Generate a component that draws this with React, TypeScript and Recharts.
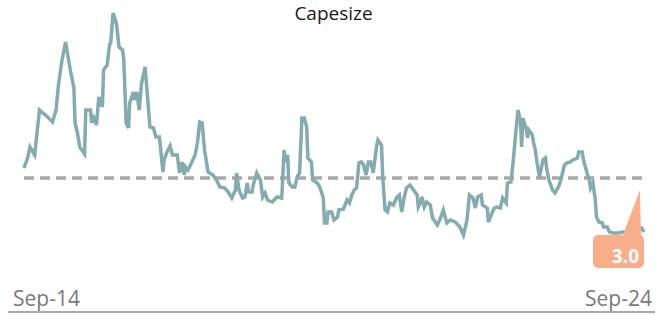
import React from 'react';
import {
  LineChart,
  Line,
  XAxis,
  YAxis,
  ReferenceLine,
  ReferenceDot,
} from 'recharts';

// weeks since Sep-14
const weeks = [
  0, 3, 5, 9, 13, 19, 24, 27, 29, 32, 35, 39, 42, 43, 45, 47, 51, 52, 56, 57,
  58, 61, 63, 66, 67, 70, 72, 73, 75, 77, 78, 80, 83, 84, 86, 88, 89, 92, 93, 95,
  97, 99, 102, 104, 106, 109, 111, 114, 117, 118, 120, 123, 125, 129, 131, 133, 135, 136, 138, 141,
  144, 146, 148, 150, 152, 155, 159, 162, 165, 169, 172, 175, 178, 179, 181, 184, 186, 188, 189, 192,
  193, 196, 199, 201, 203, 205, 209, 213, 217, 219, 220, 222, 223, 226, 228, 230, 232, 234, 236, 238,
  239, 242, 243, 247, 249, 252, 253, 255, 256, 259, 261, 264, 265, 269, 272, 274, 276, 278, 280, 282,
  284, 286, 288, 290, 292, 294, 297, 298, 301, 302, 304, 306, 308, 311, 314, 316, 318, 320, 322, 325,
  328, 331, 332, 334, 335, 337, 339, 342, 344, 348, 350, 353, 356, 359, 363, 367, 370, 373, 375, 378,
  380, 382, 385, 386, 390, 391, 394, 396, 398, 401, 403, 406, 407, 410, 412, 414, 416, 418, 419, 420,
  423, 424, 425, 428, 429, 430, 432, 434, 437, 439, 440, 442, 445, 447, 450, 452, 455, 457, 460, 462,
  466, 467, 470, 471, 474, 476, 477, 479, 481, 482, 484, 487, 488, 491, 493, 496, 499, 501, 504, 509,
  513, 517, 520, 522,
];

const capesize = [
  6.2, 6.7, 7.25, 6.85, 9.1, 8.8, 8.5, 9.1, 10.35, 11.6, 12.5, 11.1, 10.2, 8.45, 7.95, 7.25, 6.9, 9.1, 9.1, 8.45,
  8.85, 8.35, 9.75, 9.25, 11.1, 11.35, 12.35, 12.45, 13.95, 13.6, 13.35, 12.25, 12.1, 11.6, 8.45, 8.2, 9.45, 10.0, 9.6, 10.0,
  9.1, 10.45, 11.25, 9.75, 8.25, 8.2, 7.75, 7.75, 6.0, 6.6, 6.95, 7.3, 6.85, 6.85, 5.95, 6.5, 5.85, 6.25, 6.1, 6.45,
  6.85, 7.45, 8.5, 8.45, 7.1, 6.0, 5.85, 5.6, 5.25, 5.2, 5.0, 4.7, 5.1, 5.95, 5.1, 4.7, 4.75, 5.45, 5.0, 5.0,
  5.35, 5.95, 5.6, 4.75, 4.95, 4.6, 4.5, 4.75, 4.7, 7.1, 6.5, 6.85, 5.45, 5.25, 5.25, 5.75, 5.95, 8.7, 8.7, 8.25,
  6.7, 6.5, 5.6, 5.45, 5.25, 4.7, 3.45, 3.45, 4.0, 4.0, 3.6, 3.75, 4.1, 4.15, 4.6, 4.45, 4.85, 5.1, 5.2, 6.45,
  6.5, 6.35, 5.85, 6.5, 6.5, 5.95, 7.35, 7.6, 7.35, 5.75, 4.1, 4.0, 4.45, 4.35, 4.75, 4.85, 4.0, 4.7, 5.2, 5.35,
  5.1, 4.85, 4.25, 4.5, 4.75, 4.25, 4.5, 4.35, 3.7, 3.35, 3.6, 4.1, 3.45, 3.6, 3.5, 3.25, 2.85, 3.6, 4.85, 4.7,
  4.2, 4.75, 4.85, 4.35, 4.2, 3.5, 3.95, 4.2, 4.25, 4.2, 4.7, 4.45, 5.45, 5.5, 6.6, 7.95, 9.1, 8.5, 7.25, 8.7,
  8.1, 7.7, 8.1, 7.85, 7.45, 7.25, 6.45, 5.75, 6.6, 6.7, 6.2, 5.6, 5.1, 4.95, 5.25, 5.6, 6.35, 6.45, 6.5, 6.6,
  6.7, 7.0, 7.0, 6.6, 5.95, 5.6, 5.2, 5.45, 4.6, 3.75, 3.5, 3.45, 3.25, 3.25, 3.0, 2.95, 2.95, 2.95, 3.0, 3.0,
  2.95, 3.25, 3.2, 3.0,
];

const average = 5.7;
const tickWeeks = [0, 522];
const tickLabels = ['Sep-14', 'Sep-24'];

const data = weeks.map((w, i) => ({ week: w, value: capesize[i] }));
const last = data[data.length - 1];

const FONT = '"Open Sans", sans-serif';
const LINE = '#84abad';
const SALMON = '#f9ae8b';

const DateTick = ({ x, payload }: any) => {
  const first = payload.value === tickWeeks[0];
  const label = tickLabels[tickWeeks.indexOf(payload.value)];
  return (
    <text
      x={first ? x - 11 : x + 8}
      y={306}
      textAnchor={first ? 'start' : 'end'}
      fill="#7a7a7a"
      fontSize={21}
      fontFamily={FONT}
    >
      {label}
    </text>
  );
};

const Callout = ({ cx, cy }: any) => (
  <g>
    <polygon
      points={`${cx - 4},${cy - 42} ${cx - 22},${cy + 5} ${cx - 3},${cy + 5}`}
      fill={SALMON}
    />
    <rect x={cx - 51} y={cy + 3} width={51} height={33} rx={5} fill={SALMON} />
    <text
      x={cx - 5}
      y={cy + 31}
      textAnchor="end"
      fill="#fff"
      fontSize={19}
      fontWeight={700}
      fontFamily={FONT}
    >
      {last.value.toFixed(1)}
    </text>
  </g>
);

export default function App() {
  return (
    <div style={{ position: 'absolute', left: 0, top: 0, width: 667, height: 315, background: '#fff' }}>
      <div
        style={{
          position: 'absolute',
          left: 0,
          width: 667,
          top: 0,
          textAlign: 'center',
          fontFamily: FONT,
          fontSize: 19,
          lineHeight: '26px',
          color: '#1a1a1a',
        }}
      >
        Capesize
      </div>
      <LineChart
        width={667}
        height={315}
        data={data}
        margin={{ top: 2, right: 12, bottom: 2, left: 8 }}
      >
        <XAxis
          dataKey="week"
          type="number"
          domain={[0, 522]}
          ticks={tickWeeks}
          interval={0}
          height={1}
          padding={{ left: 16, right: 11 }}
          tickLine={false}
          axisLine={{ stroke: '#8c8c8c', strokeWidth: 1.5 }}
          tick={<DateTick />}
        />
        <YAxis hide type="number" domain={[-1, 14.5]} />
        <ReferenceLine
          segment={[
            { x: 0, y: average },
            { x: 522, y: average },
          ]}
          stroke="#a8a8a8"
          strokeWidth={3.5}
          strokeDasharray="10 6"
        />
        <Line
          type="linear"
          dataKey="value"
          stroke={LINE}
          strokeWidth={3.5}
          dot={false}
          isAnimationActive={false}
        />
        <ReferenceDot x={last.week} y={last.value} shape={<Callout />} />
      </LineChart>
    </div>
  );
}
